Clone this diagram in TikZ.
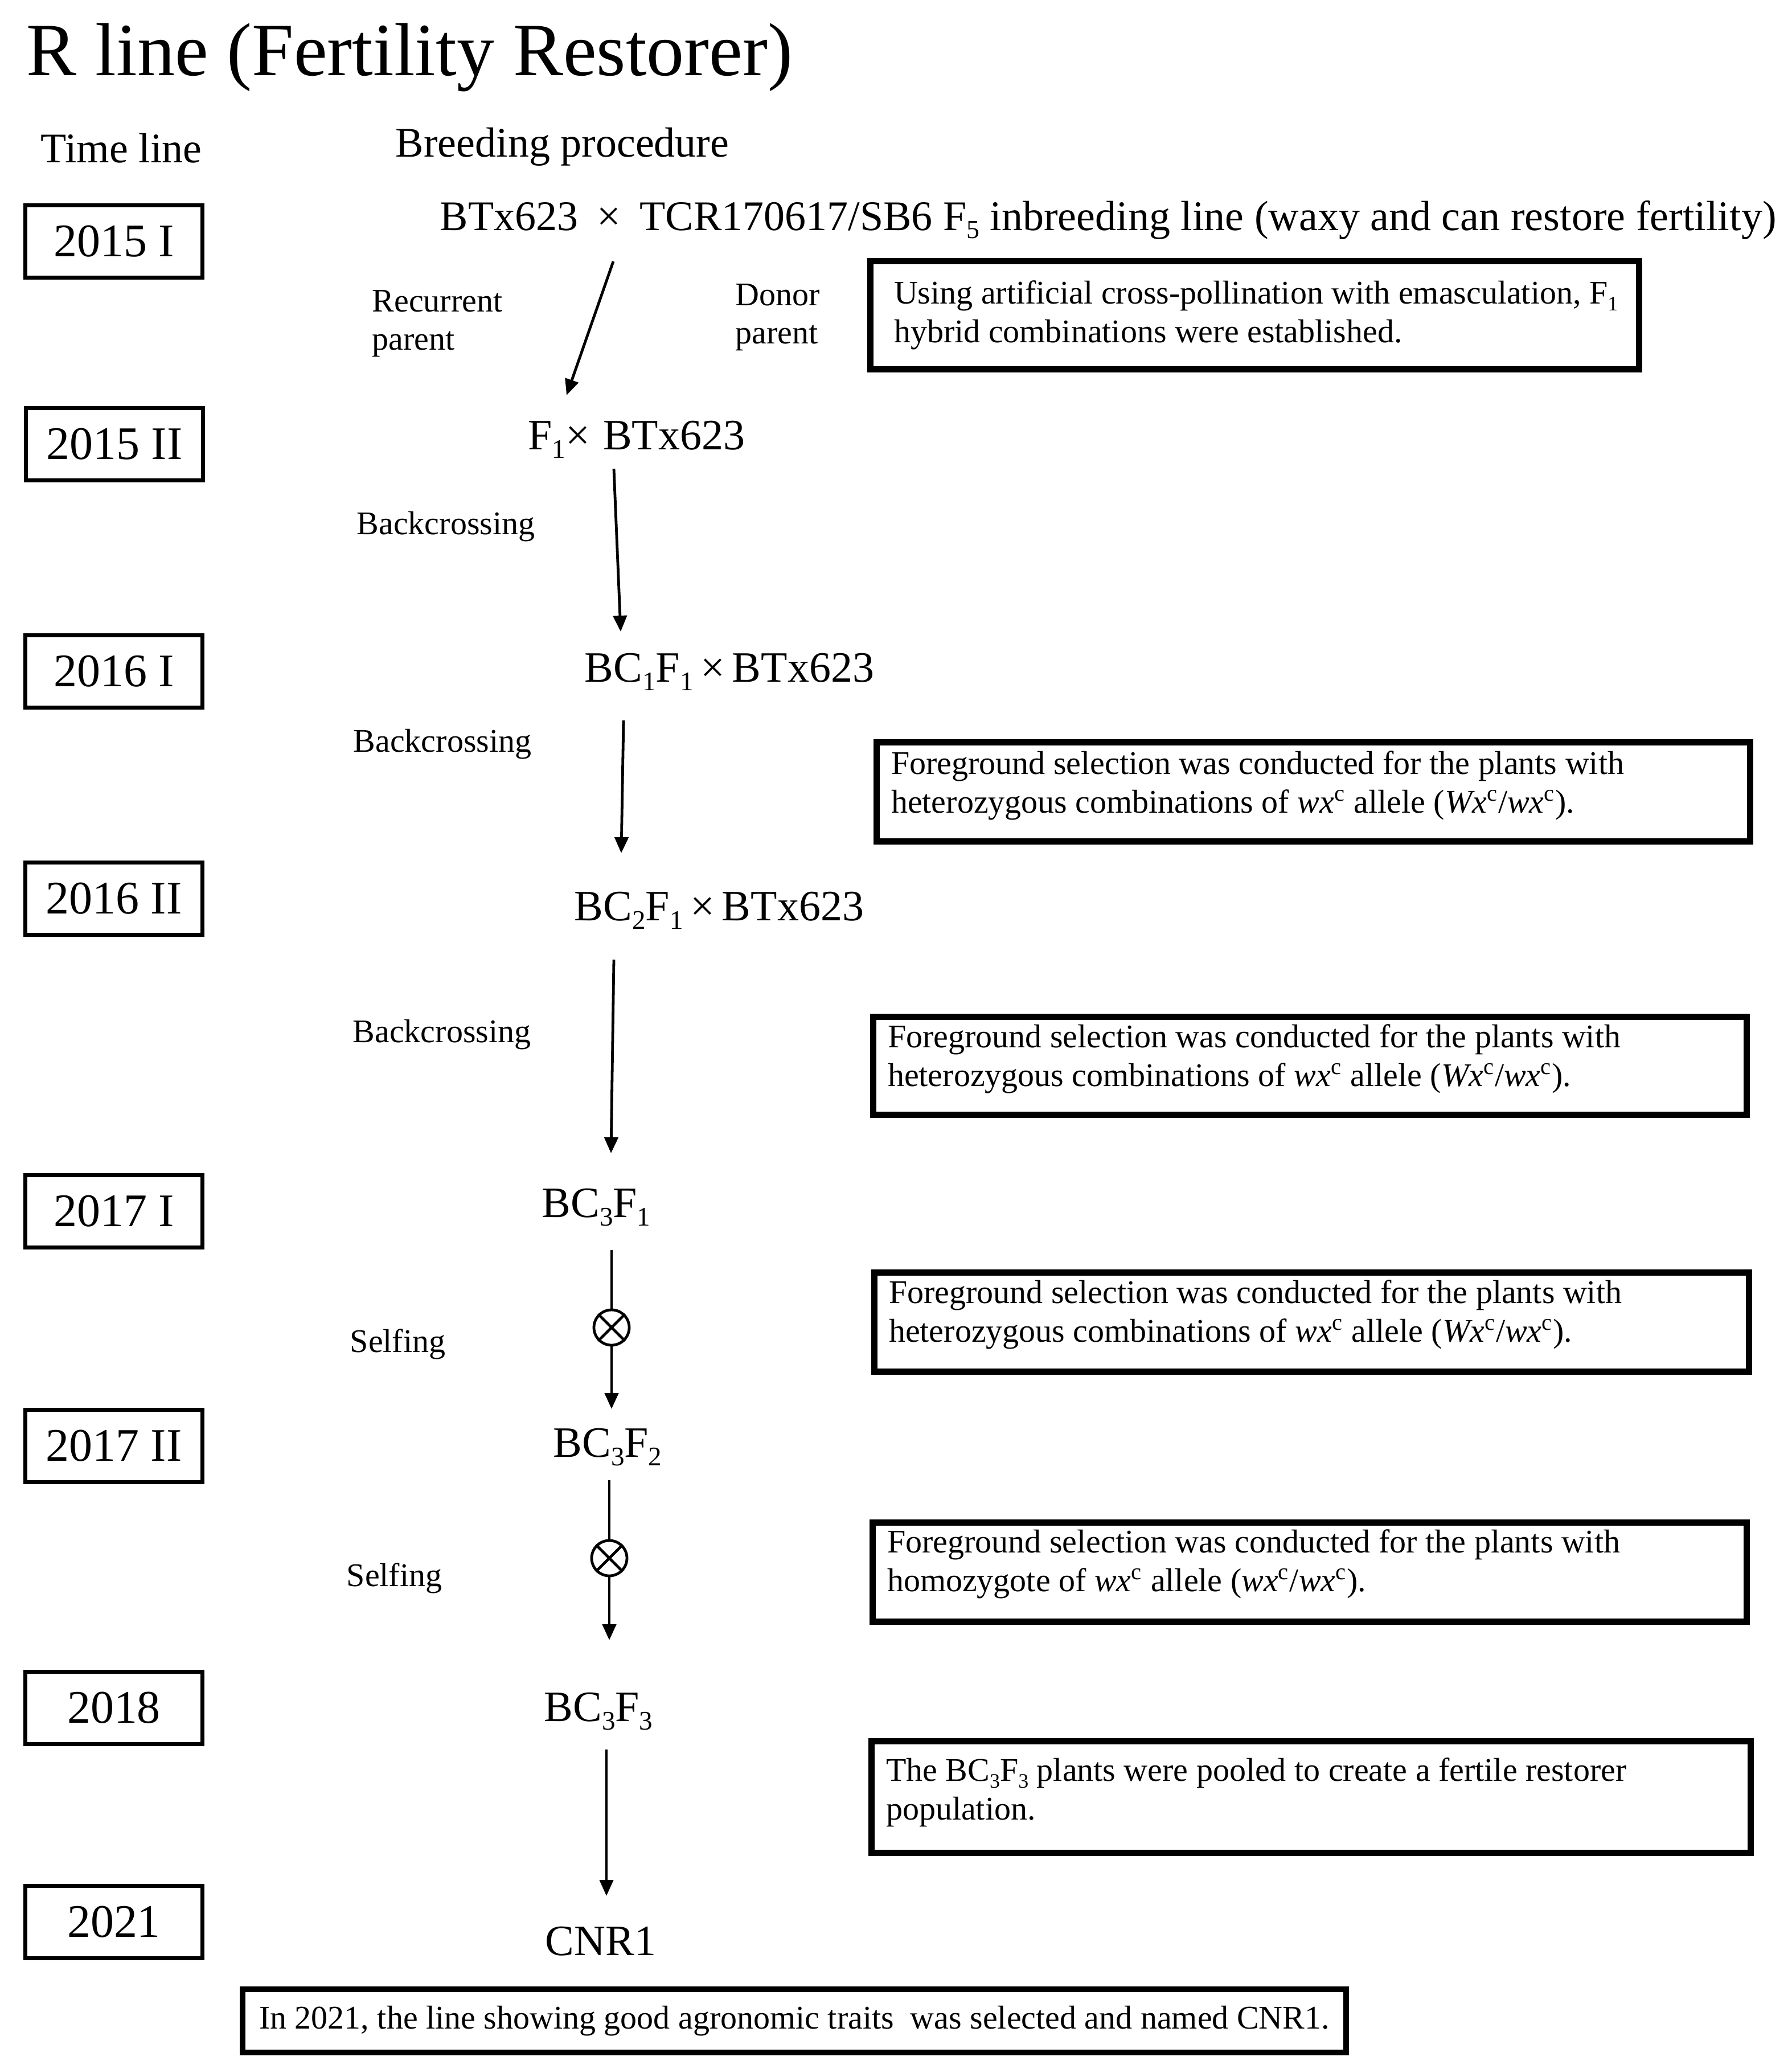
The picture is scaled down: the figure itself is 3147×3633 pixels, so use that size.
\documentclass[tikz,border=0pt]{standalone}
\usepackage{fontspec}
\setmainfont{Liberation Serif}
\usetikzlibrary{arrows.meta}
\newcommand{\fsz}[2]{\fontsize{#1}{#2}\selectfont}
\newcommand{\sbs}[1]{\raisebox{-0.2em}{\fontsize{0.62em}{0.7em}\selectfont #1}}
\begin{document}
\begin{tikzpicture}[x=0.25pt,y=-0.25pt,
  yearbox/.style={draw, line width=1.6pt, minimum width=77.75pt, minimum height=31.75pt, inner sep=0pt, font=\fsz{20.5pt}{24pt}},
  gen/.style={anchor=base, inner sep=0pt, font=\fsz{19pt}{23pt}},
  hdr/.style={anchor=base west, inner sep=0pt, font=\fsz{18.5pt}{22pt}},
  lbl/.style={inner sep=0pt, font=\fsz{14.5pt}{16.75pt}, align=left},
  notebox/.style={draw, line width=2.6pt, inner sep=0pt},
  notetext/.style={anchor=west, inner sep=0pt, align=left, font=\fsz{14.5pt}{17pt}},
  arr/.style={line width=1.2pt, -{Triangle[length=7pt,width=6pt]}},
  ln/.style={line width=1.2pt},
  selfc/.style={draw, circle, line width=1.2pt, minimum size=15.5pt, inner sep=0pt}
]
\useasboundingbox[fill=white] (0,0) rectangle (3147,3633);

% title and headings
\node[anchor=base west, inner sep=0pt, font=\fsz{33pt}{38pt}] (title) at (46,132) {R line (Fertility Restorer)};
\node[hdr] (tl) at (71,285) {Time line};
\node[hdr] (bp) at (694,275) {Breeding procedure};

% year boxes
\node[yearbox] (y1) at (200,424) {2015 I};
\node[yearbox] (y2) at (201,780) {2015 II};
\node[yearbox] (y3) at (200,1179) {2016 I};
\node[yearbox] (y4) at (200,1578) {2016 II};
\node[yearbox] (y5) at (200,2127) {2017 I};
\node[yearbox] (y6) at (200,2539) {2017 II};
\node[yearbox] (y7) at (200,2999) {2018};
\node[yearbox] (y8) at (200,3375) {2021};

% cross line
\node[hdr] (cross) at (772,404) {BTx623\hspace{0.45em}×\hspace{0.45em}TCR170617/SB6 F\sbs{5} inbreeding line (waxy and can restore fertility)};

% generations
\node[gen] (g1) at (1118,789) {F\sbs{1}×\hspace{0.3em}BTx623};
\node[gen] (g2) at (1281,1197) {BC\sbs{1}F\sbs{1}\,×\,BTx623};
\node[gen] (g3) at (1263,1616) {BC\sbs{2}F\sbs{1}\,×\,BTx623};
\node[gen] (g4) at (1047,2137) {BC\sbs{3}F\sbs{1}};
\node[gen] (g5) at (1067,2558) {BC\sbs{3}F\sbs{2}};
\node[gen] (g6) at (1051,3022) {BC\sbs{3}F\sbs{3}};
\node[gen] (g7) at (1055,3433) {CNR1};

% side labels
\node[lbl, anchor=west] (rec) at (653,568) {Recurrent\\parent};
\node[lbl, anchor=west] (don) at (1291,557) {Donor\\parent};
\node[lbl, anchor=base west] (bk1) at (626,938) {Backcrossing};
\node[lbl, anchor=base west] (bk2) at (620,1320) {Backcrossing};
\node[lbl, anchor=base west] (bk3) at (619,1830) {Backcrossing};
\node[lbl, anchor=base west] (sf1) at (614,2374) {Selfing};
\node[lbl, anchor=base west] (sf2) at (608,2785) {Selfing};

% selfing symbols
\node[selfc] (s1) at (1074,2331) {};
\node[selfc] (s2) at (1070,2736) {};
\draw[ln] (s1.north west) -- (s1.south east) (s1.north east) -- (s1.south west);
\draw[ln] (s2.north west) -- (s2.south east) (s2.north east) -- (s2.south west);

% connectors
\coordinate (a1s) at (1077,459);  \coordinate (a1e) at (995,694);
\coordinate (a2s) at (1078,823);  \coordinate (a2e) at (1090,1109);
\coordinate (a3s) at (1095,1265); \coordinate (a3e) at (1091,1498);
\coordinate (a4s) at (1078,1685); \coordinate (a4e) at (1073,2025);
\coordinate (a5s) at (1074,2195); \coordinate (a5e) at (1074,2474);
\coordinate (a6s) at (1070,2599); \coordinate (a6e) at (1070,2880);
\coordinate (a7s) at (1065,3072); \coordinate (a7e) at (1065,3329);
\draw[arr] (a1s) -- (a1e);
\draw[arr] (a2s) -- (a2e);
\draw[arr] (a3s) -- (a3e);
\draw[arr] (a4s) -- (a4e);
\draw[ln] (a5s) -- (s1.north);
\draw[arr] (s1.south) -- (a5e);
\draw[ln] (a6s) -- (s2.north);
\draw[arr] (s2.south) -- (a6e);
\draw[arr, line width=1pt] (a7s) -- (a7e);

% note boxes
\node[notebox, minimum width=337.5pt, minimum height=47.5pt] (n1) at (2203.5,553.5) {};
\node[notetext] (t1) at ([xshift=11.5pt, yshift=0pt]n1.west) {Using artificial cross-pollination with emasculation, F\sbs{1}\\hybrid combinations were established.};

\node[notebox, minimum width=383.5pt, minimum height=43.5pt] (n2) at (2306.5,1390.5) {};
\node[notetext] (t2) at ([xshift=7.5pt, yshift=2.75pt]n2.west) {Foreground selection was conducted for the plants with\\heterozygous combinations of \textit{wx}\textsuperscript{c} allele (\textit{Wx}\textsuperscript{c}/\textit{wx}\textsuperscript{c}).};

\node[notebox, minimum width=383.5pt, minimum height=43pt] (n3) at (2300.5,1871.5) {};
\node[notetext] (t3) at ([xshift=7.5pt, yshift=3pt]n3.west) {Foreground selection was conducted for the plants with\\heterozygous combinations of \textit{wx}\textsuperscript{c} allele (\textit{Wx}\textsuperscript{c}/\textit{wx}\textsuperscript{c}).};

\node[notebox, minimum width=384pt, minimum height=43.5pt] (n4) at (2303.5,2321.5) {};
\node[notetext] (t4) at ([xshift=7.5pt, yshift=3.25pt]n4.west) {Foreground selection was conducted for the plants with\\heterozygous combinations of \textit{wx}\textsuperscript{c} allele (\textit{Wx}\textsuperscript{c}/\textit{wx}\textsuperscript{c}).};

\node[notebox, minimum width=383.75pt, minimum height=43.5pt] (n5) at (2300,2760.5) {};
\node[notetext] (t5) at ([xshift=7.5pt, yshift=3.5pt]n5.west) {Foreground selection was conducted for the plants with\\homozygote of \textit{wx}\textsuperscript{c} allele (\textit{wx}\textsuperscript{c}/\textit{wx}\textsuperscript{c}).};

\node[notebox, minimum width=386pt, minimum height=49pt] (n6) at (2302.5,3155.5) {};
\node[notetext] (t6) at ([xshift=7.5pt, yshift=2pt]n6.west) {The BC\sbs{3}F\sbs{3} plants were pooled to create a fertile restorer\\population.};

\node[notebox, minimum width=484.5pt, minimum height=27.75pt, inner xsep=2pt, font=\fsz{14.5pt}{17pt}] (nb) at (1395,3548.5) {In 2021, the line showing good agronomic traits\ \ was selected and named CNR1.};
\end{tikzpicture}
\end{document}
